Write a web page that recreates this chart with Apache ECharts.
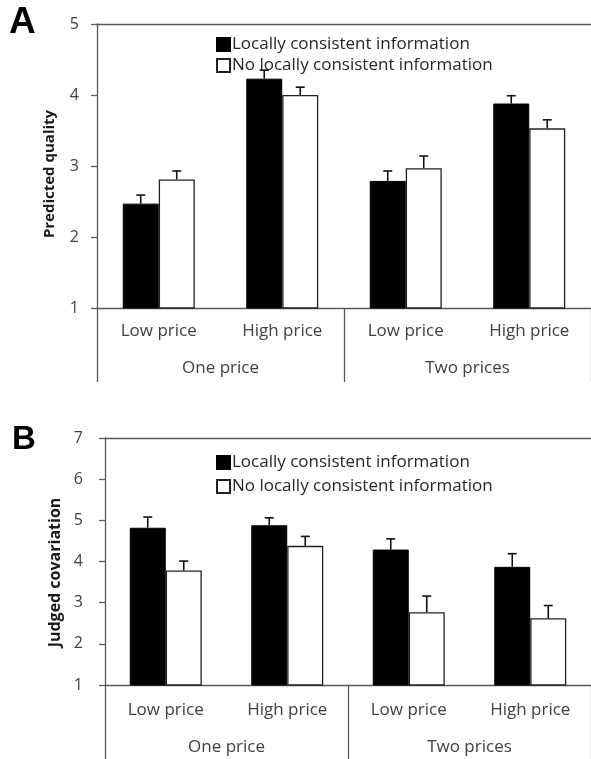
<!DOCTYPE html>
<html>
<head>
<meta charset="utf-8">
<script src="https://cdn.jsdelivr.net/npm/echarts@6/dist/echarts.min.js"></script>
<style>
html,body{margin:0;padding:0;background:#fff;}
#chart{width:591px;height:759px;}
</style>
</head>
<body>
<div id="chart"></div>
<script>
const subCategories = ['Low price', 'High price', 'Low price ', 'High price '];
const subLabels = ['Low price', 'High price', 'Low price', 'High price'];
const groupCategories = ['One price', 'Two prices'];
const seriesNames = ['Locally consistent information', 'No locally consistent information'];

// Panel A: Predicted quality
const qualityLocal = [2.47, 4.23, 2.79, 3.88];
const qualityLocalErr = [0.12, 0.12, 0.14, 0.11];
const qualityNoLocal = [2.81, 4.00, 2.97, 3.53];
const qualityNoLocalErr = [0.12, 0.11, 0.17, 0.12];

// Panel B: Judged covariation
const covLocal = [4.82, 4.88, 4.29, 3.87];
const covLocalErr = [0.26, 0.18, 0.26, 0.32];
const covNoLocal = [3.78, 4.38, 2.77, 2.62];
const covNoLocalErr = [0.23, 0.23, 0.39, 0.31];

const yTicksA = {min: 1, max: 5, interval: 1};
const yTicksB = {min: 1, max: 7, interval: 1};

const FONT = '"Open Sans", sans-serif';
const AXIS_COLOR = '#595959';
const TEXT_COLOR = '#404040';
const BAR_W = 36;

const chart = echarts.init(document.getElementById('chart'), null, {renderer: 'canvas'});

function errRender(offset) {
  return function (params, api) {
    const c = api.value(0);
    const v = api.value(1);
    const e = api.value(2);
    const p0 = api.coord([c, v]);
    const p1 = api.coord([c, v + e]);
    const x = p0[0] + offset;
    const style = {stroke: '#111', lineWidth: 1.6};
    return {
      type: 'group',
      children: [
        {type: 'line', shape: {x1: x, y1: p0[1], x2: x, y2: p1[1]}, style: style},
        {type: 'line', shape: {x1: x - 4.5, y1: p1[1], x2: x + 4.5, y2: p1[1]}, style: style}
      ]
    };
  };
}

function errData(vals, errs) {
  return vals.map((v, i) => [subCategories[i], v, errs[i]]);
}

function buildX(gi) {
  const labelMargin = gi === 0 ? 15 : 17;
  const groupMargin = gi === 0 ? 52 : 54;
  return [
    {
      type: 'category', gridIndex: gi, data: subCategories, position: 'bottom',
      axisLine: {show: true, lineStyle: {color: AXIS_COLOR, width: 1.3}},
      axisTick: {show: false},
      axisLabel: {margin: labelMargin, fontFamily: FONT, fontSize: 17, color: TEXT_COLOR,
        formatter: (v, i) => subLabels[i]},
      splitLine: {show: false}
    },
    {
      type: 'category', gridIndex: gi, data: groupCategories, position: 'bottom',
      axisLine: {show: false},
      axisTick: {show: true, length: 74, lineStyle: {color: AXIS_COLOR, width: 1.3}},
      axisLabel: {margin: groupMargin, fontFamily: FONT, fontSize: 17, color: TEXT_COLOR},
      splitLine: {show: false}
    },
    {
      type: 'category', gridIndex: gi, data: subCategories, position: 'top',
      axisLine: {show: true, lineStyle: {color: AXIS_COLOR, width: 1.3}},
      axisTick: {show: false}, axisLabel: {show: false}, splitLine: {show: false}
    }
  ];
}

function buildY(gi, ticks, name, nameGap, nameSize, shiftPad) {
  return {
    type: 'value', gridIndex: gi, min: ticks.min, max: ticks.max, interval: ticks.interval,
    name: name, nameLocation: 'middle', nameGap: nameGap,
    nameTextStyle: {fontFamily: FONT, fontWeight: 'bold', fontSize: nameSize, color: '#1a1a1a',
      padding: [0, shiftPad, 0, 0]},
    axisLine: {show: true, lineStyle: {color: AXIS_COLOR, width: 1.3}},
    axisTick: {show: true, length: 6, lineStyle: {color: AXIS_COLOR, width: 1.3}},
    axisLabel: {margin: gi === 0 ? 18 : 22, fontFamily: FONT, fontSize: 16, color: TEXT_COLOR},
    splitLine: {show: false}
  };
}

const xAxes = buildX(0).concat(buildX(1));

const barBlack = {color: '#000', borderColor: '#000', borderWidth: 1};
const barWhite = {color: '#fff', borderColor: '#222', borderWidth: 1.3};

function barSeries(name, data, xi, yi, style) {
  return {
    type: 'bar', name: name, data: data, xAxisIndex: xi, yAxisIndex: yi,
    barWidth: BAR_W, barGap: '0%', itemStyle: style, z: 2
  };
}
function errSeries(vals, errs, xi, yi, offset) {
  return {
    type: 'custom', xAxisIndex: xi, yAxisIndex: yi, data: errData(vals, errs),
    renderItem: errRender(offset), encode: {x: 0, y: 1}, z: 5, silent: true
  };
}

const option = {
  animation: false,
  backgroundColor: '#fff',
  grid: [
    {left: 97, top: 24, width: 498, height: 284},
    {left: 105, top: 438, width: 492, height: 247}
  ],
  legend: [
    {data: seriesNames, orient: 'vertical', left: 211, top: 31, itemWidth: 13, itemHeight: 13, itemGap: 4,
      icon: 'rect', textStyle: {fontFamily: FONT, fontSize: 17, color: '#262626', padding: [0, 0, 0, -3]}},
    {data: seriesNames, orient: 'vertical', left: 211, top: 449, itemWidth: 13, itemHeight: 13, itemGap: 7,
      icon: 'rect', textStyle: {fontFamily: FONT, fontSize: 17, color: '#262626', padding: [0, 0, 0, -3]}}
  ],
  xAxis: xAxes,
  yAxis: [
    buildY(0, yTicksA, 'Predicted quality', 40, 15, 16),
    buildY(1, yTicksB, 'Judged covariation', 37, 16, 22)
  ],
  graphic: [
    {type: 'text', left: 9, top: 4, style: {text: 'A', font: 'bold 37px "Liberation Sans", Arial, sans-serif', fill: '#000'}},
    {type: 'text', left: 12, top: 423, style: {text: 'B', font: 'bold 33px "Liberation Sans", Arial, sans-serif', fill: '#000'}}
  ],
  series: [
    barSeries(seriesNames[0], qualityLocal, 0, 0, barBlack),
    barSeries(seriesNames[1], qualityNoLocal, 0, 0, barWhite),
    errSeries(qualityLocal, qualityLocalErr, 0, 0, -BAR_W / 2),
    errSeries(qualityNoLocal, qualityNoLocalErr, 0, 0, BAR_W / 2),
    barSeries(seriesNames[0], covLocal, 3, 1, barBlack),
    barSeries(seriesNames[1], covNoLocal, 3, 1, barWhite),
    errSeries(covLocal, covLocalErr, 3, 1, -BAR_W / 2),
    errSeries(covNoLocal, covNoLocalErr, 3, 1, BAR_W / 2)
  ]
};
chart.setOption(option);
</script>
</body>
</html>
